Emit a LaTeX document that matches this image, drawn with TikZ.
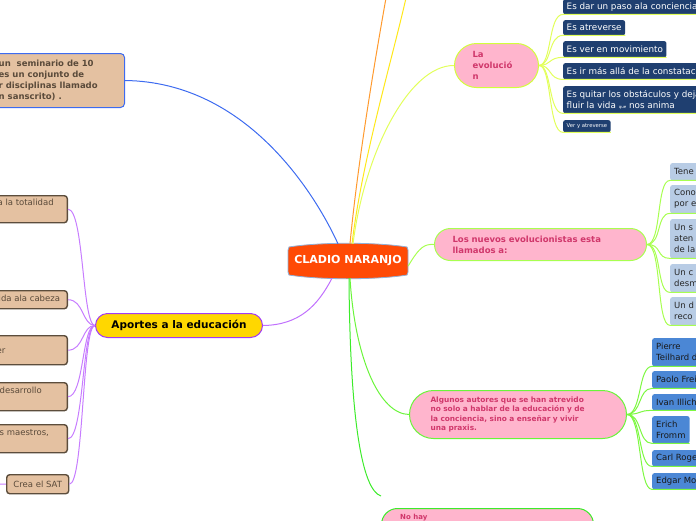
\documentclass[tikz,border=0pt]{standalone}
\usepackage{fontspec}
\setmainfont{DejaVu Sans}
\definecolor{orc}{HTML}{FF4A05}
\definecolor{cborder}{HTML}{8FB0D8}
\definecolor{tanf}{HTML}{E4C1A1}
\definecolor{brownb}{HTML}{5C4D3C}
\definecolor{browntext}{HTML}{5A4A3A}
\definecolor{tlblue}{HTML}{3D6BF0}
\definecolor{purpl}{HTML}{C77DFF}
\definecolor{purpb}{HTML}{A23BF5}
\definecolor{yelf}{HTML}{FFD700}
\definecolor{pinkf}{HTML}{FFB5CD}
\definecolor{pinkt}{HTML}{D0376B}
\definecolor{navyf}{HTML}{1F3F70}
\definecolor{lbluef}{HTML}{B8CCE5}
\definecolor{mbluef}{HTML}{4B87D5}
\definecolor{ygl}{HTML}{E2FF5A}
\definecolor{ygb}{HTML}{D2FF3C}
\definecolor{lgreen}{HTML}{A8FF50}
\definecolor{mgreen}{HTML}{6AF53A}
\definecolor{dgreen}{HTML}{3CEB2A}
\definecolor{orl}{HTML}{FF9A2E}
\definecolor{yell}{HTML}{FFE81A}
\tikzset{
  navybox/.style={fill=navyf, text=white, rounded corners=2pt, anchor=north west, align=left,
    inner xsep=3.5pt, inner ysep=0pt, font=\fontsize{8.8}{11}\selectfont},
  lbbox/.style={fill=lbluef, text=black!85, rounded corners=2pt, anchor=north west, align=left,
    inner xsep=4pt, inner ysep=0pt, text width=60pt, font=\fontsize{8.5}{11}\selectfont},
  mbbox/.style={fill=mbluef, text=black!90, rounded corners=2pt, anchor=north west, align=left,
    inner xsep=4pt, inner ysep=0pt, font=\fontsize{8.5}{11}\selectfont},
  tanbox/.style={fill=tanf, draw=brownb, line width=1.4pt, rounded corners=3pt, anchor=north east,
    minimum width=120pt},
  tantext/.style={text=browntext, anchor=north west, align=left, inner sep=0pt,
    font=\fontsize{8.5}{11}\selectfont},
  pill/.style={fill=pinkf, text=pinkt, anchor=north west, align=left, inner ysep=0pt,
    font=\bfseries\fontsize{8.5}{11}\selectfont},
  conn/.style={line width=1pt},
}
\begin{document}
\begin{tikzpicture}[x=1pt,y=-1pt]
\useasboundingbox (0,0) rectangle (696,520);
\clip (0,0) rectangle (696,520);

% ---------- central node ----------
\filldraw[fill=orc, draw=cborder, line width=0.8pt]
  (289,247) .. controls (320,242) and (376,242) .. (407,247) -- (408,250) -- (408,272)
  -- (407,275) .. controls (376,280) and (320,280) .. (289,275) -- (288,272) -- (288,250) -- cycle;
\node[minimum width=120pt, minimum height=34pt, inner sep=0pt, text=white,
  font=\bfseries\fontsize{11}{13}\selectfont] (c) at (348,261) {CLADIO NARANJO};

% ---------- top-left box ----------
\node[fill=tanf, draw=tlblue, line width=1pt, rounded corners=4pt, anchor=north east,
  minimum width=160pt, minimum height=54pt] (tl) at (125,53) {};
\node[tantext, font=\bfseries\fontsize{8.5}{11}\selectfont, anchor=north west] (tlt) at (-1.5,60)
  {un\ \ seminario de 10\\es un conjunto de\\r disciplinas llamado\\n sanscrito) .};

% ---------- Aportes ----------
\node[fill=yelf, draw=purpb, line width=1pt, rounded corners=12pt, anchor=north west,
  minimum width=167pt, minimum height=24pt, inner sep=0pt,
  font=\bfseries\fontsize{10.5}{12}\selectfont] (ap) at (95,313) {Aportes a la educación};

\node[tanbox, minimum height=27pt] (L1) at (68,195) {};
\node[tantext] (L1t) at (-2.5,198.5) {a la totalidad};
\node[tanbox, minimum height=18pt] (L2) at (68,290) {};
\node[tantext] (L2t) at (-1.5,294.5) {ida ala cabeza};
\node[tanbox, minimum height=29pt] (L3) at (68,335) {};
\node[tantext] (L3t) at (-3.5,349) {er};
\node[tanbox, minimum height=28pt] (L4) at (68,382) {};
\node[tantext] (L4t) at (-0.5,387) {desarrollo};
\node[tanbox, minimum height=28pt] (L5) at (68,424) {};
\node[tantext] (L5t) at (-0.5,429) {s maestros,};
\node[fill=tanf, draw=brownb, line width=1.4pt, rounded corners=3pt, anchor=north west,
  minimum width=62pt, minimum height=19pt, inner sep=0pt, text=browntext,
  font=\fontsize{8.5}{11}\selectfont] (L6) at (6,474) {Crea el SAT};
\coordinate (L6x) at (-20,483.5);

% ---------- La evolucion ----------
\node[pill, draw=ygb, line width=1pt, rounded corners=22pt, minimum height=44pt,
  inner xsep=18pt, text width=48pt] (ev) at (454,43) {La\\evolució\\n};

\node[navybox, minimum height=15pt] (e1) at (563,-1) {Es dar un paso ala conciencia};
\node[navybox, minimum height=15pt] (e2) at (563,20) {Es atreverse};
\node[navybox, minimum height=16pt] (e3) at (563,41) {Es ver en movimiento};
\node[navybox, minimum height=16pt] (e4) at (563,63) {Es ir más allá de la constatación};
\node[navybox, minimum height=27pt] (e5) at (563,86)
  {Es quitar los obstáculos y dejar\\fluir la vida {\fontsize{4}{5}\selectfont que} nos anima};
\node[navybox, minimum height=12pt, font=\fontsize{5.3}{7}\selectfont] (e6) at (563,120) {Ver y atreverse};

% ---------- Los nuevos evolucionistas ----------
\node[pill, draw=lgreen, line width=1pt, rounded corners=16pt, minimum height=32pt,
  inner xsep=18pt, text width=176pt] (nv) at (434,228) {Los nuevos evolucionistas esta\\llamados a:};

\node[lbbox, minimum height=17pt] (n1) at (670,163) {Tene};
\node[lbbox, minimum height=28pt] (n2) at (670,185) {Cono\\por e};
\node[lbbox, minimum height=39pt] (n3) at (670,219) {Un s\\aten\\de la};
\node[lbbox, minimum height=28pt] (n4) at (670,264) {Un c\\desm};
\node[lbbox, minimum height=28pt] (n5) at (670,297) {Un d\\reco};

% ---------- Algunos autores ----------
\node[pill, draw=mgreen, line width=1pt, rounded corners=24pt, minimum height=48pt,
  inner xsep=21pt, text width=175pt, font=\bfseries\fontsize{7.4}{9.6}\selectfont] (al) at (409,390)
  {Algunos autores que se han atrevido\\no solo a hablar de la educación y de\\la conciencia, sino a enseñar y vivir\\una praxis.};

\node[mbbox, minimum height=28pt] (a1) at (652,338) {Pierre\\Teilhard de Chardin};
\node[mbbox, minimum height=17pt] (a2) at (652,371) {Paolo Freire};
\node[mbbox, minimum height=16pt] (a3) at (652,394) {Ivan Illich};
\node[mbbox, minimum height=27pt] (a4) at (652,416) {Erich\\Fromm};
\node[mbbox, minimum height=16pt] (a5) at (652,450) {Carl Rogers};
\node[mbbox, minimum height=16pt] (a6) at (652,473) {Edgar Morin};

% ---------- bottom node ----------
\node[fill=pinkf, draw=dgreen, line width=1pt, rounded corners=16pt, anchor=north west,
  minimum width=212pt, minimum height=40pt] (nh) at (381,508) {};
\node[text=pinkt, anchor=north west, inner sep=0pt, font=\bfseries\fontsize{7}{9}\selectfont]
  (nht) at (400,514) {No hay};

% ---------- free ends at top ----------
\coordinate (topO) at (386,-2);
\coordinate (topY) at (406,-2);

% ---------- connectors from center ----------
\draw[conn, tlblue] ([xshift=-10pt]c.north) .. controls (318,200) and (250,82) .. (tl.east);
\draw[conn, orl] ([xshift=2pt]c.north) .. controls (358,160) and (375,60) .. (topO);
\draw[conn, yell] ([xshift=4pt]c.north) .. controls (362,160) and (392,60) .. (topY);
\draw[conn, ygl] ([xshift=5pt]c.north) .. controls (365,150) and (410,65) .. (ev.west);
\draw[conn, lgreen] ([yshift=-5pt]c.east) .. controls (420,246) and (425,244) .. (nv.west);
\draw[conn, mgreen] ([xshift=2pt]c.south) .. controls (355,360) and (380,414) .. (al.west);
\draw[conn, dgreen] ([xshift=1pt]c.south) .. controls (350,420) and (362,490) .. ([yshift=12pt]nh.north west);
\draw[conn, purpl!80!purpb] ([xshift=-16pt]c.south) .. controls (318,305) and (300,325) .. (ap.east);

% ---------- Aportes children ----------
\foreach \n in {L1,L2,L3,L4,L5,L6}{
  \draw[conn, purpl] (ap.west) .. controls (82,325) and (84,0|-\n.east) .. (\n.east);
}
\draw[conn, purpl] (L6.west) -- (L6x);

% ---------- La evolucion children ----------
\foreach \n in {e1,e2,e3,e4,e5,e6}{
  \draw[conn, ygl] (ev.east) .. controls (552,65) and (548,0|-\n.south west) .. (\n.south west) -- (\n.south east);
}
% ---------- nuevos children ----------
\foreach \n in {n1,n2,n3,n4,n5}{
  \draw[conn, lgreen] (nv.east) .. controls (662,244) and (656,0|-\n.south west) .. (\n.south west) -- (\n.south east);
}
% ---------- algunos children ----------
\foreach \n in {a1,a2,a3,a4,a5,a6}{
  \draw[conn, mgreen!70!lgreen] (al.east) .. controls (642,414) and (638,0|-\n.south west) .. (\n.south west) -- (\n.south east);
}
\end{tikzpicture}
\end{document}
